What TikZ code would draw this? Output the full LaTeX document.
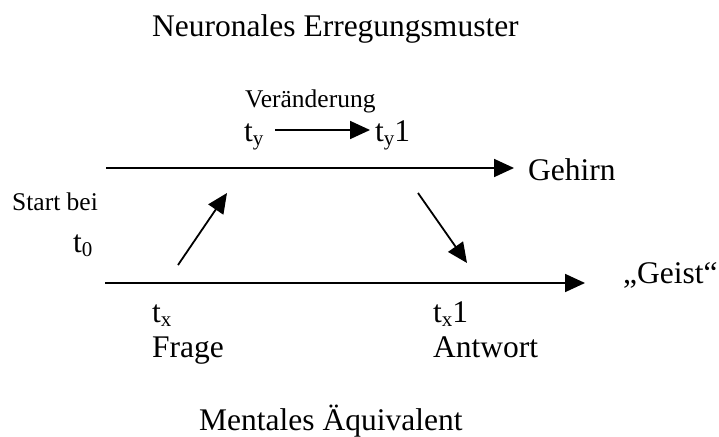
\documentclass[tikz,border=0pt]{standalone}
\usepackage{fontspec}
\setmainfont{Liberation Serif}
\usetikzlibrary{arrows.meta}
\newcommand{\sbx}[1]{\raisebox{-4.5pt}{\fontsize{21}{21}\selectfont #1}}
\begin{document}
\begin{tikzpicture}[x=1pt,y=-1pt,
  big/.style={font=\fontsize{31.5}{31.5}\selectfont, inner sep=0pt, anchor=base west},
  small/.style={font=\fontsize{25.5}{25.5}\selectfont, inner sep=0pt, anchor=base west},
  arr/.style={line width=1.8pt, -{Triangle[length=20pt,width=18pt]}}]
\useasboundingbox (0,0) rectangle (719,436);
% titles
\node[big] (title) at (152,37) {Neuronales Erregungsmuster};
\node[big] (mental) at (199,430) {Mentales Äquivalent};
% top
\node[small] (veraend) at (245,107) {Veränderung};
\node[big] (ty) at (244,141) {t\sbx{y}};
\node[big] (ty1) at (375,141) {t\sbx{y}1};
\coordinate (tya) at (275,130);
\draw[arr] (tya) -- (tya -| ty1.west) [shorten >=5pt];
% Gehirn line
\node[big] (gehirn) at (528,180) {Gehirn};
\coordinate (g0) at (106,168);
\draw[arr, shorten >=14pt] (g0) -- (g0 -| gehirn.west);
% start
\node[small] (start) at (12,210) {Start bei};
\node[big] (t0) at (73,252) {t\sbx{0}};
% Geist line
\node[big] (geist) at (623,283) {„Geist“};
\coordinate (m0) at (105,283);
\draw[arr, shorten >=38pt] (m0) -- (m0 -| geist.west);
% diagonal arrows
\coordinate (u0) at (178,265);
\coordinate (u1) at (227,193);
\draw[arr] (u0) -- (u1);
\coordinate (d0) at (418,193);
\coordinate (d1) at (467,263);
\draw[arr] (d0) -- (d1);
% bottom labels
\node[big] (tx) at (152,322) {t\sbx{x}};
\node[big] (frage) at (152,357) {Frage};
\node[big] (tx1) at (433,322) {t\sbx{x}1};
\node[big] (antwort) at (433,357) {Antwort};
\end{tikzpicture}
\end{document}
